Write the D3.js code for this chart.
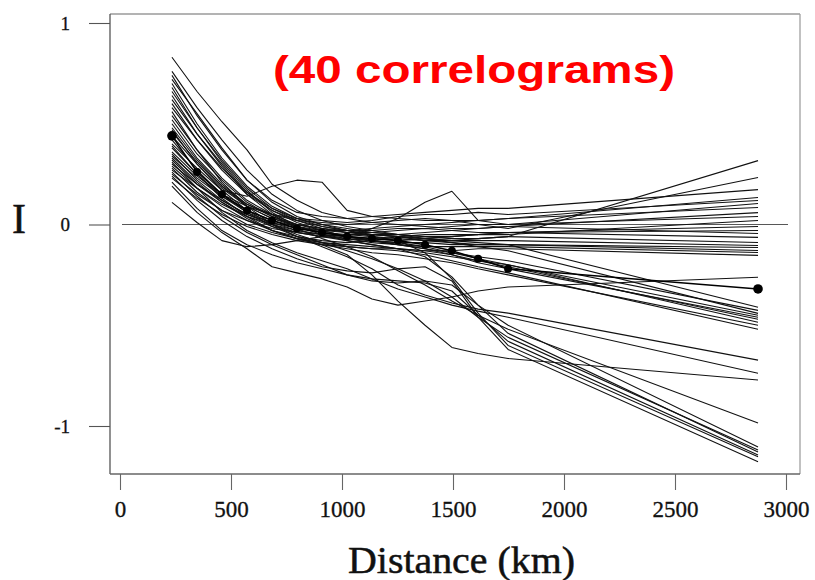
<!DOCTYPE html>
<html>
<head>
<meta charset="utf-8">
<script src="https://cdn.jsdelivr.net/npm/d3@7/dist/d3.min.js"></script>
<style>
  html, body { margin: 0; padding: 0; background: #fff; }
  svg { display: block; }
</style>
</head>
<body>
<svg id="chart" width="815" height="580"></svg>
<script>
// Distance class midpoints (km)
const distances = [234, 347, 459, 572, 685, 797, 910, 1023, 1135, 1252, 1374, 1495, 1613, 1748, 2874];

// Moran's I per distance class, one array per correlogram
const s01 = [0.58, 0.42, 0.28, 0.16, 0.08, 0.03, 0.00, -0.02, -0.04, -0.05, -0.06, -0.07, -0.07, -0.06, 0.317];
const s02 = [0.36, 0.24, 0.15, 0.09, 0.05, 0.02, 0.01, 0.00, 0.01, 0.02, 0.03, 0.02, 0.00, -0.02, 0.233];
const s03 = [0.72, 0.55, 0.38, 0.22, 0.12, 0.06, 0.04, 0.03, 0.04, 0.05, 0.06, 0.07, 0.08, 0.08, 0.173];
const s04 = [0.30, 0.20, 0.12, 0.05, 0.01, -0.02, -0.03, -0.03, -0.02, -0.01, 0.00, 0.01, 0.02, 0.03, 0.134];
const s05 = [0.50, 0.33, 0.20, 0.10, 0.05, 0.03, 0.02, 0.01, 0.02, 0.04, 0.05, 0.05, 0.06, 0.05, 0.119];
const s06 = [0.25, 0.15, 0.07, 0.02, -0.02, -0.04, -0.05, -0.06, -0.02, 0.03, 0.11, 0.165, 0.02, 0.00, 0.104];
const s07 = [0.40, 0.28, 0.17, 0.14, 0.19, 0.22, 0.21, 0.07, 0.04, 0.03, 0.02, 0.02, 0.02, 0.03, 0.084];
const s08 = [0.66, 0.48, 0.32, 0.18, 0.08, 0.02, -0.02, -0.04, -0.05, -0.05, -0.04, -0.03, -0.02, -0.01, 0.059];
const s09 = [0.44, 0.30, 0.18, 0.09, 0.03, 0.00, -0.02, -0.03, -0.03, -0.02, -0.02, -0.01, 0.00, 0.00, 0.040];
const s10 = [0.27, 0.18, 0.10, 0.04, 0.00, -0.03, -0.05, -0.06, -0.07, -0.08, -0.07, -0.06, -0.05, -0.05, 0.020];
const s11 = [0.62, 0.45, 0.30, 0.16, 0.07, 0.02, -0.01, -0.03, -0.04, -0.05, -0.06, -0.06, -0.05, -0.04, -0.010];
const s12 = [0.34, 0.23, 0.14, 0.07, 0.02, -0.01, -0.03, -0.04, -0.04, -0.03, -0.02, -0.03, -0.04, -0.04, -0.030];
const s13 = [0.83, 0.66, 0.51, 0.37, 0.20, 0.12, 0.06, 0.03, 0.01, 0.00, -0.01, -0.02, -0.02, -0.01, -0.045];
const s14 = [0.29, 0.18, 0.09, 0.02, -0.03, -0.06, -0.08, -0.09, -0.08, -0.06, -0.05, -0.05, -0.05, -0.04, -0.064];
const s15 = [0.48, 0.32, 0.19, 0.09, 0.03, -0.01, -0.04, -0.05, -0.06, -0.07, -0.08, -0.08, -0.07, -0.06, -0.089];
const s16 = [0.11, 0.01, -0.08, -0.11, -0.10, -0.08, -0.06, -0.05, -0.05, -0.06, -0.07, -0.08, -0.08, -0.08, -0.104];
const s17 = [0.70, 0.50, 0.33, 0.19, 0.09, 0.03, -0.01, -0.03, -0.05, -0.06, -0.08, -0.09, -0.10, -0.10, -0.114];
const s18 = [0.32, 0.20, 0.11, 0.04, -0.01, -0.04, -0.06, -0.07, -0.08, -0.09, -0.09, -0.10, -0.10, -0.10, -0.129];
const s19 = [0.54, 0.37, 0.23, 0.12, 0.05, 0.00, -0.03, -0.06, -0.08, -0.10, -0.11, -0.11, -0.11, -0.11, -0.139];
const s20 = [0.23, 0.13, 0.05, -0.01, -0.05, -0.08, -0.10, -0.11, -0.12, -0.12, -0.13, -0.13, -0.12, -0.12, -0.153];
const s21 = [0.19, 0.06, -0.04, -0.12, -0.21, -0.24, -0.27, -0.31, -0.37, -0.40, -0.38, -0.36, -0.33, -0.31, -0.262];
const s22 = [0.46, 0.31, 0.19, 0.10, 0.04, 0.00, -0.02, -0.04, -0.05, -0.06, -0.07, -0.08, -0.09, -0.10, -0.411];
const s23 = [0.38, 0.25, 0.14, 0.06, 0.01, -0.03, -0.05, -0.07, -0.09, -0.10, -0.12, -0.14, -0.16, -0.18, -0.426];
const s24 = [0.76, 0.58, 0.42, 0.27, 0.15, 0.07, 0.02, -0.01, -0.03, -0.05, -0.07, -0.09, -0.11, -0.13, -0.441];
const s25 = [0.35, 0.22, 0.12, 0.05, 0.00, -0.04, -0.06, -0.08, -0.10, -0.12, -0.14, -0.16, -0.18, -0.20, -0.450];
const s26 = [0.60, 0.42, 0.27, 0.15, 0.07, 0.01, -0.03, -0.06, -0.08, -0.10, -0.12, -0.15, -0.19, -0.22, -0.460];
const s27 = [0.28, 0.16, 0.07, 0.00, -0.04, -0.07, -0.09, -0.10, -0.11, -0.12, -0.13, -0.15, -0.18, -0.21, -0.470];
const s28 = [0.52, 0.35, 0.22, 0.11, 0.04, -0.01, -0.04, -0.06, -0.08, -0.09, -0.11, -0.14, -0.17, -0.20, -0.485];
const s29 = [0.33, 0.21, 0.11, 0.03, -0.03, -0.07, -0.10, -0.12, -0.14, -0.15, -0.17, -0.19, -0.22, -0.25, -0.500];
const s30 = [0.42, 0.27, 0.15, 0.06, -0.01, -0.06, -0.09, -0.11, -0.12, -0.13, -0.15, -0.18, -0.21, -0.24, -0.520];
const s31 = [0.56, 0.37, 0.21, 0.09, 0.00, -0.06, -0.11, -0.16, -0.22, -0.30, -0.35, -0.39, -0.42, -0.44, -0.673];
const s32 = [0.31, 0.18, 0.06, -0.03, -0.09, -0.14, -0.18, -0.22, -0.27, -0.32, -0.36, -0.40, -0.43, -0.46, -0.738];
const s33 = [0.39, 0.25, 0.13, 0.04, -0.03, -0.07, -0.10, -0.15, -0.25, -0.38, -0.50, -0.61, -0.64, -0.665, -0.772];
const s34 = [0.64, 0.45, 0.29, 0.15, 0.05, -0.02, -0.07, -0.11, -0.16, -0.23, -0.30, -0.38, -0.45, -0.52, -0.985];
const s35 = [0.26, 0.14, 0.04, -0.04, -0.10, -0.15, -0.20, -0.25, -0.28, -0.29, -0.28, -0.30, -0.40, -0.50, -1.104];
const s36 = [0.47, 0.30, 0.17, 0.07, 0.00, -0.05, -0.09, -0.13, -0.17, -0.22, -0.28, -0.36, -0.46, -0.56, -1.119];
const s37 = [0.68, 0.48, 0.31, 0.17, 0.06, -0.01, -0.05, -0.08, -0.10, -0.12, -0.16, -0.26, -0.40, -0.54, -1.129];
const s38 = [0.21, 0.08, -0.03, -0.10, -0.15, -0.19, -0.22, -0.25, -0.27, -0.28, -0.29, -0.33, -0.45, -0.58, -1.144];
const s39 = [0.74, 0.54, 0.37, 0.22, 0.11, 0.04, 0.00, -0.03, -0.06, -0.08, -0.14, -0.27, -0.44, -0.60, -1.153];
const s40 = [0.24, 0.12, 0.02, -0.06, -0.12, -0.17, -0.21, -0.23, -0.24, -0.22, -0.21, -0.28, -0.46, -0.62, -1.178];

// Average correlogram, drawn with filled markers
const meanI = [0.44, 0.26, 0.15, 0.07, 0.02, -0.02, -0.04, -0.06, -0.07, -0.08, -0.10, -0.13, -0.17, -0.22, -0.32];

const xTicks = [0, 500, 1000, 1500, 2000, 2500, 3000];
const yTicks = [-1, 0, 1];

const correlograms = [s01, s02, s03, s04, s05, s06, s07, s08, s09, s10,
                      s11, s12, s13, s14, s15, s16, s17, s18, s19, s20,
                      s21, s22, s23, s24, s25, s26, s27, s28, s29, s30,
                      s31, s32, s33, s34, s35, s36, s37, s38, s39, s40];

const svg = d3.select("#chart");

// Plot frame edges
const frame = { left: 110, right: 800, top: 14, bottom: 474 };

const x = d3.scaleLinear().domain([0, 3000]).range([120, 786]);
const y = d3.scaleLinear().domain([-1, 1]).range([426, 23]);

const serif = "'Liberation Serif', 'Times New Roman', serif";

// Frame: light top/right edges, darker axis edges
svg.append("line")
  .attr("x1", frame.left).attr("x2", frame.right)
  .attr("y1", frame.top).attr("y2", frame.top)
  .attr("stroke", "#9a9a9a").attr("stroke-width", 1.6);
svg.append("line")
  .attr("x1", frame.right).attr("x2", frame.right)
  .attr("y1", frame.top).attr("y2", frame.bottom)
  .attr("stroke", "#a0a0a0").attr("stroke-width", 1.3);

// Reference line at I = 0
svg.append("line")
  .attr("x1", x(0) + 2).attr("x2", x(3000) + 2)
  .attr("y1", y(0)).attr("y2", y(0))
  .attr("stroke", "#444").attr("stroke-width", 0.9);

// Correlogram lines
const line = d3.line()
  .x((d, i) => x(distances[i]))
  .y(d => y(d));

svg.append("g")
  .attr("fill", "none")
  .attr("stroke", "#111")
  .attr("stroke-width", 1.1)
  .attr("stroke-linejoin", "round")
  .selectAll("path")
  .data(correlograms)
  .join("path")
  .attr("d", line);

// Mean correlogram
svg.append("path")
  .datum(meanI)
  .attr("fill", "none")
  .attr("stroke", "#000")
  .attr("stroke-width", 1.5)
  .attr("d", line);

svg.append("g")
  .selectAll("circle")
  .data(meanI)
  .join("circle")
  .attr("cx", (d, i) => x(distances[i]))
  .attr("cy", d => y(d))
  .attr("r", (d, i) => (i === 0 || i === meanI.length - 1) ? 4.8 : 4)
  .attr("fill", "#000");

// Y axis
const yAxis = svg.append("g")
  .attr("transform", `translate(${frame.left},0)`)
  .call(d3.axisLeft(y).tickValues(yTicks).tickSize(21).tickPadding(19)
    .tickFormat(d => String(d)));
yAxis.select(".domain").remove();
yAxis.selectAll(".tick line").attr("stroke", "#555").attr("stroke-width", 1.1);
yAxis.selectAll(".tick text")
  .attr("font-family", serif)
  .attr("font-size", 19)
  .attr("fill", "#111")
  .attr("stroke", "#111").attr("stroke-width", 0.3);
svg.append("line")
  .attr("x1", frame.left).attr("x2", frame.left)
  .attr("y1", frame.top).attr("y2", frame.bottom)
  .attr("stroke", "#555").attr("stroke-width", 1.3);

// X axis
const xAxis = svg.append("g")
  .attr("transform", `translate(0,${frame.bottom})`)
  .call(d3.axisBottom(x).tickValues(xTicks).tickSize(16).tickPadding(11)
    .tickFormat(d => String(d)));
xAxis.select(".domain").remove();
xAxis.selectAll(".tick line").attr("stroke", "#666").attr("stroke-width", 1.1);
xAxis.selectAll(".tick text")
  .attr("font-family", serif)
  .attr("font-size", 23)
  .attr("fill", "#111")
  .attr("stroke", "#111").attr("stroke-width", 0.3);
svg.append("line")
  .attr("x1", frame.left).attr("x2", frame.right)
  .attr("y1", frame.bottom).attr("y2", frame.bottom)
  .attr("stroke", "#666").attr("stroke-width", 1.3);

// Axis titles
svg.append("text")
  .attr("x", 19).attr("y", 233)
  .attr("text-anchor", "middle")
  .attr("font-family", serif)
  .attr("font-size", 42)
  .attr("fill", "#111")
  .attr("stroke", "#111").attr("stroke-width", 0.5)
  .text("I");

svg.append("text")
  .attr("x", 348).attr("y", 573)
  .attr("font-family", serif)
  .attr("font-size", 38)
  .attr("textLength", 227)
  .attr("lengthAdjust", "spacingAndGlyphs")
  .attr("fill", "#111")
  .attr("stroke", "#111").attr("stroke-width", 0.5)
  .text("Distance (km)");

// Annotation
svg.append("text")
  .attr("x", 273).attr("y", 83)
  .attr("font-family", "'Liberation Sans', Arial, sans-serif")
  .attr("font-weight", "bold")
  .attr("font-size", 39)
  .attr("textLength", 402)
  .attr("lengthAdjust", "spacingAndGlyphs")
  .attr("fill", "#ff0000")
  .text("(40 correlograms)");
</script>
</body>
</html>
